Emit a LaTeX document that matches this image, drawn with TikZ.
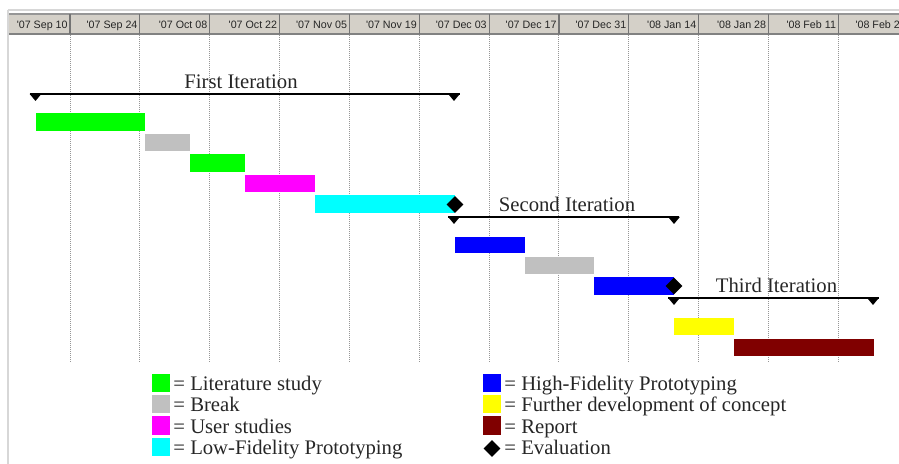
\documentclass[tikz,border=0pt]{standalone}
\usepackage{fontspec}
\setmainfont{Liberation Serif}
\newfontfamily\hdrfont[Ligatures=TeXOff]{Liberation Sans}
\usetikzlibrary{shapes.geometric}
\definecolor{hdrbg}{RGB}{212,208,200}
\definecolor{hdrline}{RGB}{150,150,150}
\definecolor{frameline}{RGB}{215,215,215}
\definecolor{gridgray}{RGB}{150,150,150}
\definecolor{litgreen}{RGB}{0,255,0}
\definecolor{breakgray}{RGB}{192,192,192}
\definecolor{usermag}{RGB}{255,0,255}
\definecolor{lowcyan}{RGB}{0,255,255}
\definecolor{highblue}{RGB}{0,0,255}
\definecolor{furtheryellow}{RGB}{255,255,0}
\definecolor{reportred}{RGB}{128,0,0}
\tikzset{
  hdrlabel/.style={anchor=base east, inner sep=0pt, font=\hdrfont\fontsize{5.35}{6}\selectfont, text=black!85},
  gridline/.style={gridgray, line width=0.5pt, dash pattern=on 0.5pt off 0.5pt},
  iterline/.style={line width=1.25pt, black},
  iterlabel/.style={anchor=base, inner sep=0pt, font=\fontsize{10.35}{12}\selectfont, text=black!85},
  legtext/.style={anchor=base west, inner sep=0pt, font=\fontsize{10.35}{12}\selectfont, text=black!85},
  evdiamond/.style={diamond, fill=black, inner sep=0pt, minimum width=8.6pt, minimum height=8.6pt},
}
\begin{document}
\begin{tikzpicture}[x=0.5pt,y=-0.5pt]
\useasboundingbox (0,0) rectangle (899,464);
\begin{scope}
\clip (0,0) rectangle (899,464);
% frame lines
\draw[frameline, line width=1pt] (8,10) -- (899,10);
\draw[frameline, line width=1pt] (8,10) -- (8,464);
% header band
\fill[hdrbg] (9,14) rectangle (899,34);
\draw[hdrline, line width=0.6pt] (9,14) -- (899,14);
\draw[hdrline!120, line width=0.7pt] (9,34) -- (899,34);
% dividers, grid and labels
\foreach \k/\lab in {0/{'07 Sep 10},1/{'07 Sep 24},2/{'07 Oct 08},3/{'07 Oct 22},4/{'07 Nov 05},5/{'07 Nov 19},6/{'07 Dec 03},7/{'07 Dec 17},8/{'07 Dec 31},9/{'08 Jan 14},10/{'08 Jan 28},11/{'08 Feb 11},12/{'08 Feb 25}}{
  \pgfmathsetmacro{\gx}{70+69.85*\k}
  \node[hdrlabel] (hl\k) at (\gx-2,28.5) {\lab};
  \draw[black!55, line width=0.6pt] (\gx,14) -- (\gx,34);
  \draw[gridline] (\gx,35) -- (\gx,362);
}
% bars
\foreach \xa/\xb/\ya/\yb/\col in {
  36/145/113/131/litgreen,
  145/190/134/151/breakgray,
  190/245/154/172/litgreen,
  245/315/175/192/usermag,
  315/455/195/213/lowcyan,
  455/525/237/253/highblue,
  525/594/257/274/breakgray,
  594/674/277/295/highblue,
  674/734/318/335/furtheryellow,
  734/874/339/356/reportred}{
  \fill[\col] (\xa,\ya) rectangle (\xb,\yb);
}
% evaluations
\node[evdiamond] (ev1) at (455,204.5) {};
\node[evdiamond] (ev2) at (674,286) {};
% iterations
\coordinate (i1s) at (30,94);  \coordinate (i1e) at (460,94);
\coordinate (i2s) at (448,217); \coordinate (i2e) at (679,217);
\coordinate (i3s) at (668,298); \coordinate (i3e) at (879,298);
\draw[iterline] (i1s) -- (i1e);
\draw[iterline] (i2s) -- (i2e);
\draw[iterline] (i3s) -- (i3e);
\foreach \tx/\ty in {35.5/94,454/94,454/217,674/217,674/298,873/298}{
  \fill[black] (\tx-5.8,\ty) -- (\tx+5.8,\ty) -- (\tx,\ty+7) -- cycle;
}
\node[iterlabel] (l1) at (241,89) {First Iteration};
\node[iterlabel] (l2) at (567,211.5) {Second Iteration};
\node[iterlabel] (l3) at (776.5,293) {Third Iteration};
% legend
\foreach \bl/\col/\txt [count=\n] in {391/litgreen/{= Literature study},412/breakgray/{= Break},433/usermag/{= User studies},454/lowcyan/{= Low-Fidelity Prototyping}}{
  \fill[\col] (152,\bl-16.5) rectangle (170,\bl+1.5);
  \node[legtext] (la\n) at (173,\bl) {\txt};
}
\foreach \bl/\col/\txt [count=\n] in {391/highblue/{= High-Fidelity Prototyping},412/furtheryellow/{= Further development of concept},433/reportred/{= Report}}{
  \fill[\col] (483,\bl-16.5) rectangle (501,\bl+1.5);
  \node[legtext] (lb\n) at (504,\bl) {\txt};
}
\node[evdiamond] (lev) at (492,448.5) {};
\node[legtext] (lb4) at (504,454) {= Evaluation};
\end{scope}
\end{tikzpicture}
\end{document}
